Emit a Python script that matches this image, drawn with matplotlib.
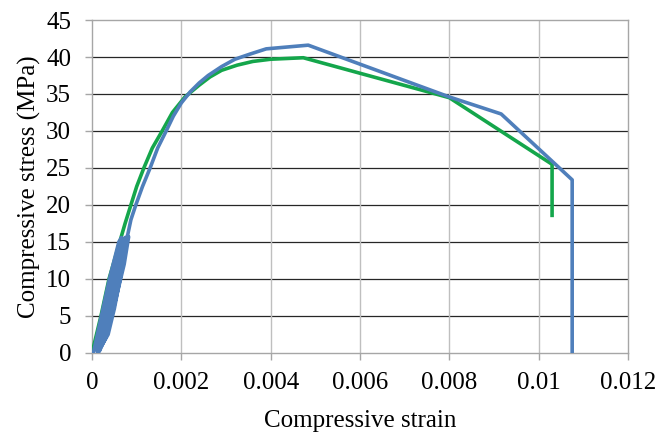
import matplotlib.pyplot as plt

# stress-strain data for the two specimens (strain, MPa)
# blue: four load/unload cycles up to ~15.7 MPa, then the envelope to failure
blue_strain = [0.00003, 0.00021, 0.00039, 0.0006, 0.00066,
               0.00058, 0.00045, 0.00032, 0.00012,
               0.00027, 0.00046, 0.00068, 0.00074,
               0.00066, 0.0005, 0.00036, 0.00014,
               0.0003, 0.00049, 0.0007, 0.00082,
               0.00072, 0.00062, 0.00044, 0.0003, 0.00016,
               0.00034, 0.00054, 0.00074, 0.0008,
               0.00087, 0.00098, 0.00113, 0.0013, 0.00147, 0.00166, 0.00182,
               0.002, 0.0022, 0.0024, 0.0026, 0.0029, 0.0032, 0.00354,
               0.0039, 0.00484, 0.008, 0.00916, 0.01075, 0.01075]
blue_stress = [0, 5, 10, 15, 15.6,
               11, 6, 2.5, 0.2,
               5, 10, 15, 15.6,
               11, 6, 2.5, 0.2,
               4.5, 9.5, 14.5, 15.7,
               12, 9.5, 5, 2, 0.2,
               5, 10, 15, 16,
               18, 20, 22.5, 25, 27.7, 30, 32,
               33.8, 35.3, 36.5, 37.5, 38.7, 39.7, 40.4,
               41.1, 41.6, 34.6, 32.3, 23.4, 0]

green_strain = [0, 0.0002, 0.00038, 0.00062, 0.00074, 0.00087, 0.001,
                0.00116, 0.00135, 0.00157, 0.0018, 0.00208, 0.0024,
                0.00264, 0.0029, 0.00325, 0.0036, 0.004, 0.00473,
                0.008, 0.0103, 0.0103]
green_stress = [0, 5, 10, 15, 17.5, 20, 22.5,
                25, 27.7, 30, 32.5, 34.6, 36.2,
                37.3, 38.2, 38.9, 39.4, 39.7, 39.9,
                34.5, 25.5, 18.6]

x_ticks = [0, 0.002, 0.004, 0.006, 0.008, 0.01, 0.012]
x_labels = ['0', '0.002', '0.004', '0.006', '0.008', '0.01', '0.012']
y_ticks = list(range(0, 50, 5))

plt.rcParams['font.family'] = ['Liberation Serif', 'DejaVu Serif']

fig = plt.figure(figsize=(6.55, 4.32), dpi=100)
ax = fig.add_axes([0.1405, 0.1829, 0.8183, 0.7708])

# grid: dark horizontal lines, light vertical lines
for y in y_ticks[1:-1]:
    ax.axhline(y, color='#262626', linewidth=0.9, zorder=1)
for x in x_ticks[1:-1]:
    ax.axvline(x, color='#bfbfbf', linewidth=1.0, zorder=1)

ax.plot(green_strain, green_stress, color='#14a64b', linewidth=2.6,
        solid_joinstyle='round', zorder=3)
ax.plot(blue_strain, blue_stress, color='#4f7fbb', linewidth=2.6,
        solid_joinstyle='round', zorder=4)

ax.set_xlim(0, 0.012)
ax.set_ylim(0, 45)
ax.set_xticks(x_ticks)
ax.set_xticklabels(x_labels)
ax.set_yticks(y_ticks)

for s in ax.spines.values():
    s.set_color('#a6a6a6')
    s.set_linewidth(1.0)

ax.tick_params(direction='out', length=5, width=1.0, color='#a6a6a6',
               labelsize=18, labelcolor='black')
ax.tick_params(axis='x', pad=9)
ax.tick_params(axis='y', pad=10)

ax.set_xlabel('Compressive strain', fontsize=18, labelpad=11)
ax.set_ylabel('Compressive stress (MPa)', fontsize=18, labelpad=4)

fig.savefig('out.png', dpi=100)
